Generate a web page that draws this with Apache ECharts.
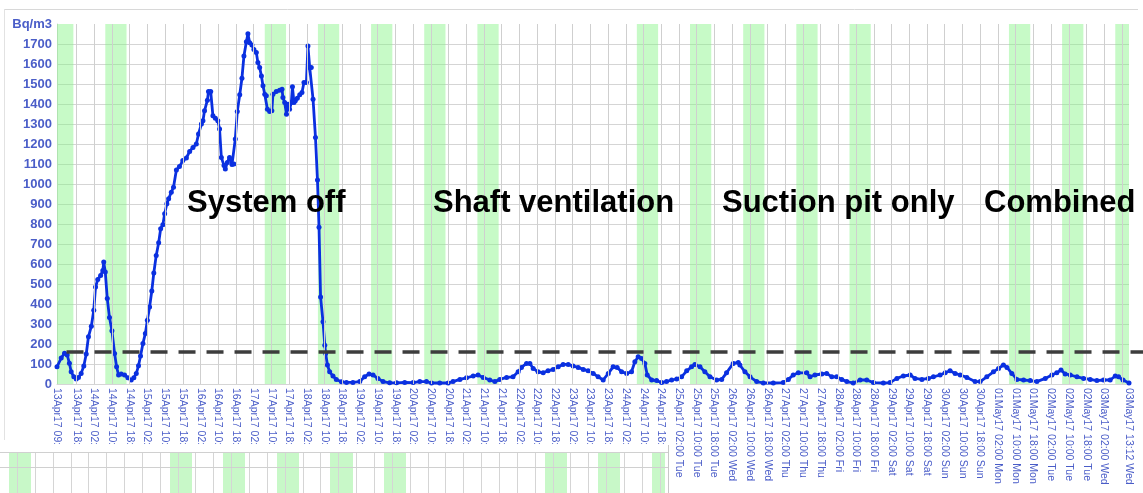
<!DOCTYPE html>
<html><head><meta charset="utf-8">
<script src="https://cdn.jsdelivr.net/npm/echarts@6/dist/echarts.min.js"></script>
<style>html,body{margin:0;padding:0;background:#fff}#c{width:1143px;height:493px}</style>
</head><body><div id="c"></div>
<script>
// hours since 13Apr17 00:00
const hours = [9.2,11.1,12.6,13.8,14.8,15.6,16.8,17.9,18.9,20.1,21.3,22.4,23.4,24.7,25.8,26.6,27.6,28.9,29.9,30.3,31.0,31.9,32.9,34.0,35.2,36.1,37.0,38.2,39.7,41.2,42.7,43.9,45.0,46.0,46.9,48.0,49.1,50.0,51.0,52.0,52.9,54.0,55.1,56.0,57.0,57.8,58.8,59.6,60.8,61.8,63.1,64.5,66.0,67.6,69.1,70.6,72.1,73.1,74.4,75.1,75.8,77.1,77.6,78.6,79.6,80.7,81.8,82.6,83.4,84.6,85.2,86.1,87.1,88.2,89.1,89.7,90.6,91.7,92.7,93.6,94.7,95.4,96.2,97.2,98.1,99.2,99.9,100.7,101.5,102.2,103.0,103.7,104.2,105.2,106.2,106.7,108.2,109.7,110.8,111.2,112.0,112.8,113.5,114.2,115.0,115.5,116.2,116.8,117.7,118.8,119.8,120.7,121.8,122.5,123.3,124.0,124.8,125.9,126.8,127.5,128.2,129.3,130.1,130.5,131.3,132.3,133.8,135.3,137.6,139.9,142.8,145.9,148.1,150.1,151.9,154.1,156.4,159.4,162.5,166.2,170.0,173.0,176.0,178.3,182.0,185.8,188.0,191.1,194.1,197.1,199.3,201.6,204.6,206.9,209.1,212.2,215.1,217.4,218.9,221.2,222.7,224.2,226.4,228.7,230.9,233.2,235.5,237.7,240.0,242.2,244.5,246.8,249.0,251.3,253.5,255.8,258.1,260.3,262.1,264.1,266.4,268.6,270.1,271.6,273.1,274.6,275.7,277.7,279.9,282.2,284.4,286.7,289.0,291.2,293.5,295.7,297.2,299.5,301.7,304.0,307.0,309.3,311.5,314.5,316.8,317.5,319.8,322.1,325.1,328.1,332.6,337.1,339.4,341.6,343.9,347.7,349.2,351.4,354.5,356.7,359.0,361.2,363.5,365.8,368.7,371.8,374.8,377.8,382.3,385.3,388.4,391.3,394.4,396.6,399.7,402.6,404.9,407.9,410.2,412.4,414.7,417.0,420.0,423.7,426.0,429.0,432.0,434.3,436.5,438.1,440.3,442.6,445.6,448.6,451.6,455.4,458.4,460.6,462.5,464.4,466.7,469.7,472.7,475.7,478.7,481.7,484.7,487.0,488.5,490.5,493.2];
const radon = [86,130,154,145,104,61,36,25,32,53,90,150,236,289,369,485,522,543,568,610,560,427,332,266,153,86,45,50,45,31,20,31,53,91,140,203,253,319,385,465,555,643,706,776,796,851,901,926,959,984,1070,1087,1117,1130,1163,1183,1200,1250,1300,1316,1366,1419,1462,1462,1341,1329,1316,1275,1133,1092,1075,1108,1133,1097,1100,1225,1362,1446,1529,1640,1711,1751,1706,1695,1673,1657,1607,1582,1540,1491,1449,1441,1374,1362,1366,1449,1462,1469,1474,1432,1407,1349,1399,1374,1407,1486,1407,1416,1429,1446,1457,1507,1507,1690,1582,1582,1424,1233,1020,784,435,311,194,153,95,61,40,23,11,8,8,12,36,50,45,28,12,6,6,8,7,12,12,5,5,5,12,23,31,40,45,33,20,12,23,33,36,61,83,103,103,78,61,56,66,73,86,98,98,90,83,73,66,53,36,20,53,86,83,61,53,61,111,136,128,103,45,20,17,7,12,20,25,36,66,86,98,86,61,36,20,23,56,103,108,95,61,36,12,5,5,7,23,45,56,56,36,45,50,53,36,36,23,12,5,20,20,7,5,7,28,40,45,28,23,28,36,45,56,66,53,45,33,12,12,36,61,78,95,83,53,23,20,17,12,28,45,56,70,50,45,36,28,23,17,20,20,40,36,20,5];
const threshold = 160;
const thresholdStartHour = 13.5;
const startHour = 9.2, endHour = 493.2;
const bandDays = [0,1,4,5,6,7,8,11,12,13,14,15,18,19,20];
const bandFromHour = 7, bandToHour = 16.6;
const gridHours = []; for (let h = 18; h <= 490; h += 8) gridHours.push(h);
const labelHours = [startHour].concat(gridHours.filter(h => h <= 482), [endHour]);
const annotations = [['System off', 187], ['Shaft ventilation', 433], ['Suction pit only', 722], ['Combined', 984]];
const dayNames = ['Sun','Mon','Tue','Wed','Thu','Fri','Sat'];

function pad(n){ return (n < 10 ? '0' : '') + n; }
function fmtHour(h){
  const d = Math.floor(h / 24 + 1e-9);
  const mins = Math.round((h - d * 24) * 60);
  const hh = Math.floor(mins / 60), mm = mins % 60;
  let date = 13 + d, mon = 'Apr';
  if (date > 30) { date -= 30; mon = 'May'; }
  return pad(date) + mon + '17 ' + pad(hh) + ':' + pad(mm) + ' ' + dayNames[(4 + d) % 7];
}

const blue = '#0a30e0';
const labelBlue = '#4a5dc8';
const gridGray = '#d5d5d5';
const splitColors = []; for (let i = 0; i < 18; i++) splitColors.push(gridGray); splitColors.push('rgba(0,0,0,0)');

const chart = echarts.init(document.getElementById('c'), null, {renderer: 'canvas'});
chart.setOption({
  animation: false,
  backgroundColor: '#fff',
  grid: {left: 57, right: 14, top: 24, bottom: 109, containLabel: false, outerBoundsMode: 'none'},
  xAxis: {
    type: 'value', min: startHour, max: endHour,
    splitLine: {show: false}, axisTick: {show: false},
    axisLine: {show: true, lineStyle: {color: gridGray}},
    axisLabel: {
      customValues: labelHours, rotate: -90, margin: 4,
      color: labelBlue, fontSize: 10.5, fontFamily: 'Arial, Liberation Sans, sans-serif',
      formatter: v => fmtHour(v)
    }
  },
  yAxis: {
    type: 'value', min: 0, max: 1800, interval: 100,
    axisTick: {show: false},
    axisLine: {show: true, lineStyle: {color: gridGray}},
    splitLine: {show: true, lineStyle: {color: splitColors, width: 1}},
    axisLabel: {
      margin: 5, color: labelBlue, fontSize: 13, fontWeight: 'bold',
      fontFamily: 'Arial, Liberation Sans, sans-serif',
      formatter: v => v === 1800 ? 'Bq/m3' : String(v)
    }
  },
  series: [
    {
      type: 'line', z: 1, data: [], silent: true,
      markArea: {
        silent: true,
        itemStyle: {color: 'rgba(130,245,130,0.45)'},
        data: bandDays.map(d => [
          {xAxis: Math.max(startHour, d * 24 + bandFromHour)},
          {xAxis: Math.min(endHour, d * 24 + bandToHour)}
        ])
      },
      markLine: {
        silent: true, symbol: ['none', 'none'], label: {show: false},
        lineStyle: {color: '#cfcfcf', width: 1, type: 'solid'},
        emphasis: {disabled: true},
        data: gridHours.map(h => ({xAxis: h}))
      }
    },
    {
      type: 'line', z: 3,
      data: hours.map((h, i) => [h, radon[i]]),
      symbol: 'circle', symbolSize: 5, showAllSymbol: true,
      lineStyle: {color: blue, width: 2.8},
      itemStyle: {color: blue},
      silent: true
    }
  ]
});

const tp = chart.convertToPixel({gridIndex: 0}, [thresholdStartHour, threshold]);
const W = 1143;
const graphics = [];
// window frame
graphics.push({type: 'line', z: 120, shape: {x1: 4, y1: 9.5, x2: 1138, y2: 9.5}, style: {stroke: '#d8d8d8', lineWidth: 1}});
graphics.push({type: 'line', z: 120, shape: {x1: 4.5, y1: 9, x2: 4.5, y2: 440}, style: {stroke: '#e2e2e2', lineWidth: 1}});
// threshold dashed line
graphics.push({type: 'line', z: 50, shape: {x1: tp[0], y1: tp[1], x2: W, y2: tp[1]},
  style: {stroke: '#3d3d3d', lineWidth: 3.5, lineDash: [17, 11]}});
// annotations
annotations.forEach(a => graphics.push({type: 'text', z: 60, x: a[1], y: 203,
  style: {text: a[0], font: 'bold 31px Arial, "Liberation Sans", sans-serif', fill: '#000', verticalAlign: 'middle'}}));
// overlapping strip at bottom left
graphics.push({type: 'rect', z: 100, shape: {x: 0, y: 444, width: 668, height: 49}, style: {fill: '#fff'}});
[[9,31],[170,192],[223,245],[277,299],[330,353],[384,406],[545,567],[598,620],[652,665]].forEach(b =>
  graphics.push({type: 'rect', z: 101, shape: {x: b[0], y: 452, width: b[1] - b[0], height: 41}, style: {fill: '#c8f8c8'}}));
for (let x = 17; x < 668; x += 17.85) graphics.push({type: 'line', z: 102, shape: {x1: Math.round(x) + 0.5, y1: 452, x2: Math.round(x) + 0.5, y2: 493}, style: {stroke: '#d5d5d5', lineWidth: 1}});
[452.5, 467.5].forEach(y => graphics.push({type: 'line', z: 102, shape: {x1: 0, y1: y, x2: 668, y2: y}, style: {stroke: '#d0d0d0', lineWidth: 1}}));
graphics.push({type: 'line', z: 103, shape: {x1: 668.5, y1: 445, x2: 668.5, y2: 493}, style: {stroke: '#c8c8c8', lineWidth: 1}});
chart.setOption({graphic: graphics});
</script>
</body></html>
